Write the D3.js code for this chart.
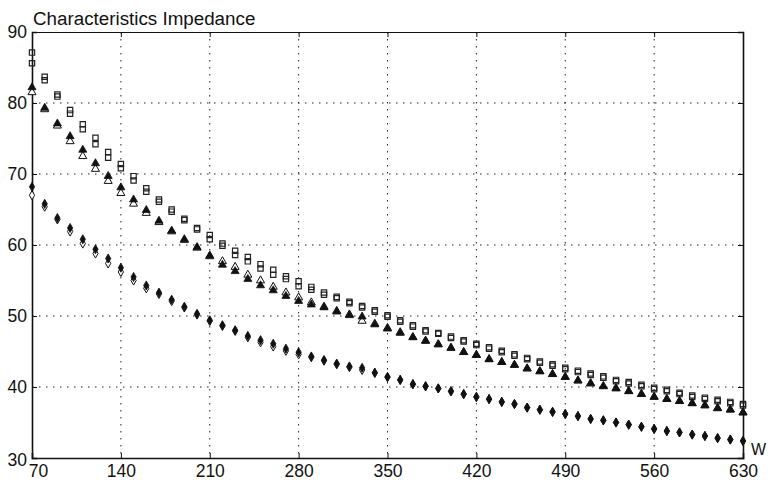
<!DOCTYPE html>
<html>
<head>
<meta charset="utf-8">
<script src="https://cdn.jsdelivr.net/npm/d3@7"></script>
<style>
  html, body { margin: 0; padding: 0; background: #fff; }
  svg { display: block; }
  text { font-family: "Liberation Sans", Arial, Helvetica, sans-serif; fill: #111; }
</style>
</head>
<body>
<svg id="chart" width="768" height="483"></svg>
<script>
// ---------- data ----------
const title = "Characteristics Impedance";
const xLabel = "W";
const xTicks = [70, 140, 210, 280, 350, 420, 490, 560, 630];
const yTicks = [30, 40, 50, 60, 70, 80, 90];
const widths = [70, 80, 90, 100, 110, 120, 130, 140, 150, 160, 170, 180, 190, 200, 210, 220, 230, 240, 250, 260,
  270, 280, 290, 300, 310, 320, 330, 340, 350, 360, 370, 380, 390, 400, 410, 420, 430, 440, 450, 460,
  470, 480, 490, 500, 510, 520, 530, 540, 550, 560, 570, 580, 590, 600, 610, 620, 630];

const squareA = [87.1, 83.7, 81.2, 79.0, 77.0, 75.1, 73.1, 71.4, 69.7, 68.0, 66.4, 65.0, 63.7, 62.4, 61.4, 60.2, 59.2, 58.3, 57.3, 56.5,
  55.6, 54.9, 54.1, 53.3, 52.7, 52.0, 51.4, 50.8, 50.1, 49.4, 48.7, 48.0, 47.6, 47.1, 46.6, 46.1, 45.6, 45.1, 44.6, 44.1,
  43.6, 43.2, 42.7, 42.3, 41.9, 41.5, 41.0, 40.7, 40.3, 39.9, 39.6, 39.2, 38.8, 38.5, 38.2, 37.9, 37.6];
const squareB = [85.6, 83.2, 80.9, 78.5, 76.3, 74.2, 72.3, 70.8, 69.1, 67.5, 66.1, 64.7, 63.5, 62.2, 60.8, 59.9, 58.6, 57.7, 56.7, 55.8,
  55.2, 54.2, 53.7, 53.0, 52.5, 51.8, 51.2, 50.6, 49.9, 49.2, 48.5, 47.8, 47.5, 46.9, 46.4, 45.9, 45.4, 44.9, 44.4, 43.9,
  43.4, 43.0, 42.5, 42.1, 41.7, 41.3, 40.8, 40.5, 40.1, 39.7, 39.4, 39.0, 38.6, 38.3, 38.0, 37.7, 37.4];
const triFilled = [82.2, 79.3, 77.1, 75.3, 73.4, 71.5, 69.7, 68.1, 66.4, 64.9, 63.4, 62.0, 60.8, 59.7, 58.5, 57.2, 56.3, 55.2, 54.3, 53.6,
  52.8, 52.1, 51.6, 51.2, 50.6, 50.1, 49.9, 48.8, 48.2, 47.6, 47.0, 46.5, 46.0, 45.5, 44.9, 44.5, 43.9, 43.5, 43.1, 42.6,
  42.2, 41.8, 41.4, 40.9, 40.5, 40.1, 39.8, 39.4, 39.0, 38.6, 38.3, 38.0, 37.7, 37.4, 37.0, 36.8, 36.4];
const triOpen = [81.5, 79.1, 76.8, 74.6, 72.5, 70.7, 69.0, 67.3, 65.8, 64.5, 63.2, 61.9, 60.7, 59.6, 58.4, 57.7, 56.9, 55.8, 55.0, 54.1,
  53.3, 52.6, 51.9, 51.3, 50.7, 50.2, 49.3, 48.9, 48.3, 47.7, 47.0, 46.5, 46.0, 45.5, 44.9, 44.5, 43.9, 43.5, 43.1, 42.6,
  42.2, 41.8, 41.4, 40.9, 40.5, 40.1, 39.8, 39.4, 39.0, 38.6, 38.3, 38.0, 37.7, 37.4, 37.0, 36.8, 36.4];
const diaFilled = [68.2, 65.8, 63.8, 62.4, 60.8, 59.4, 58.1, 56.8, 55.5, 54.3, 53.3, 52.3, 51.3, 50.3, 49.4, 48.7, 48.0, 47.2, 46.6, 46.1,
  45.4, 44.9, 44.3, 43.8, 43.3, 42.9, 42.7, 42.0, 41.4, 41.0, 40.4, 40.1, 39.8, 39.4, 39.0, 38.6, 38.3, 37.9, 37.6, 37.1,
  36.8, 36.5, 36.2, 35.9, 35.5, 35.3, 35.0, 34.7, 34.4, 34.1, 33.8, 33.6, 33.3, 33.1, 32.8, 32.6, 32.4];
const diaOpen = [67.0, 65.4, 63.6, 61.9, 60.2, 58.8, 57.4, 56.2, 55.0, 53.9, 53.1, 52.1, 51.2, 50.2, 49.3, 48.6, 47.9, 47.0, 46.3, 45.7,
  45.1, 44.6, 44.2, 43.7, 43.2, 42.8, 42.4, 42.0, 41.4, 41.0, 40.4, 40.1, 39.8, 39.4, 39.0, 38.6, 38.3, 37.9, 37.6, 37.1,
  36.8, 36.5, 36.2, 35.9, 35.5, 35.3, 35.0, 34.7, 34.4, 34.1, 33.8, 33.6, 33.3, 33.1, 32.8, 32.6, 32.4];

// ---------- layout ----------
const W = 768, H = 483;
const m = { left: 32, right: 25, top: 32, bottom: 25 };
const svg = d3.select("#chart");

const x = d3.scaleLinear().domain([70, 630]).range([m.left, W - m.right]);
const y = d3.scaleLinear().domain([30, 90]).range([H - m.bottom, m.top]);

// grid
const grid = svg.append("g");
grid.selectAll("line.v").data(xTicks.slice(1, -1)).join("line")
  .attr("x1", d => x(d)).attr("x2", d => x(d))
  .attr("y1", y(90)).attr("y2", y(30))
  .attr("stroke", "#222").attr("stroke-width", 1).attr("stroke-dasharray", "1.5,5.5");
grid.selectAll("line.h").data(yTicks.slice(1, -1)).join("line")
  .attr("x1", x(70)).attr("x2", x(630))
  .attr("y1", d => y(d)).attr("y2", d => y(d))
  .attr("stroke", "#222").attr("stroke-width", 1).attr("stroke-dasharray", "1.5,5.5");

// axes (ticks inward, labels via d3 axes)
const axB = svg.append("g").attr("transform", `translate(0,${y(30)})`)
  .call(d3.axisBottom(x).tickValues(xTicks).tickSize(-5).tickPadding(7).tickFormat(d3.format("d")));
const axL = svg.append("g").attr("transform", `translate(${x(70)},0)`)
  .call(d3.axisLeft(y).tickValues(yTicks).tickSize(-5).tickPadding(5).tickFormat(d3.format("d")));
const axT = svg.append("g").attr("transform", `translate(0,${y(90)})`)
  .call(d3.axisTop(x).tickValues(xTicks).tickSize(-5).tickFormat(""));
const axR = svg.append("g").attr("transform", `translate(${x(630)},0)`)
  .call(d3.axisRight(y).tickValues(yTicks).tickSize(-5).tickFormat(""));

[axB, axL, axT, axR].forEach(a => {
  a.select(".domain").attr("stroke", "#111").attr("stroke-width", 1.6);
  a.selectAll(".tick line").attr("stroke", "#111").attr("stroke-width", 1);
  a.selectAll("text").attr("font-size", 17.5).attr("fill", "#111")
    .attr("font-family", "'Liberation Sans', Arial, Helvetica, sans-serif");
});
axT.select(".domain").attr("stroke-width", 1);
axB.selectAll(".tick text").filter(d => d === 70).attr("dx", 6);
axL.selectAll(".tick text").filter(d => d === 30).attr("dy", "0.4em");

// title and axis label
svg.append("text").attr("x", 33).attr("y", 24.5).attr("font-size", 18.8).text(title);
svg.append("text").attr("x", 751).attr("y", 455).attr("font-size", 16).text(xLabel);

// ---------- markers ----------
const marks = svg.append("g");
function pts(vals) { return widths.map((w, i) => ({ w, v: vals[i] })); }

const sq = d3.symbol().type(d3.symbolSquare).size(28);
const tri = d3.symbol().type(d3.symbolTriangle).size(28);
const dia = d3.symbol().type(d3.symbolDiamond).size(24);

function draw(vals, sym, fill, stroke, sw) {
  marks.append("g").selectAll("path").data(pts(vals)).join("path")
    .attr("transform", d => `translate(${x(d.w)},${y(d.v)})`)
    .attr("d", sym)
    .attr("fill", fill).attr("stroke", stroke).attr("stroke-width", sw);
}
draw(squareA, sq, "none", "#222", 1.2);
draw(squareB, sq, "none", "#222", 1.2);
draw(triOpen, tri, "#fff", "#111", 1);
draw(triFilled, tri, "#111", "#111", 0.8);
draw(diaOpen, dia, "#fff", "#111", 1);
draw(diaFilled, dia, "#111", "#111", 0.8);
</script>
</body>
</html>
